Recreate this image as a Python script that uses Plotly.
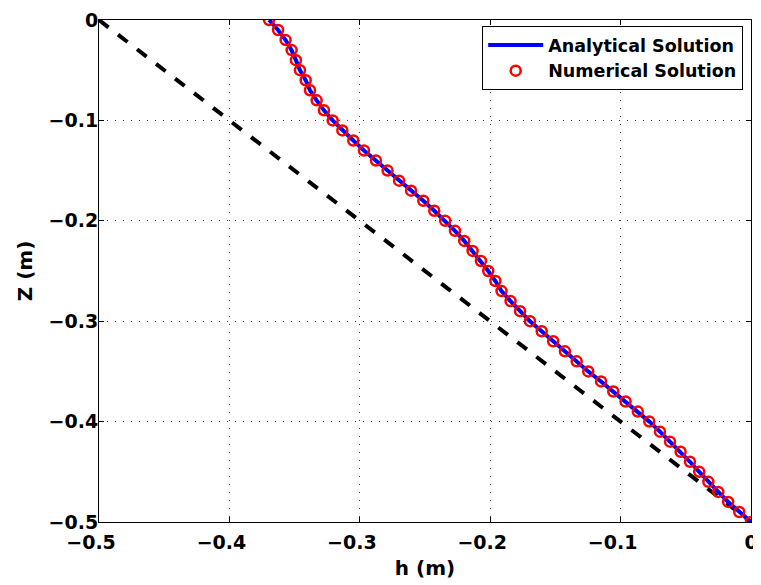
import plotly.graph_objects as go

z = [-i / 100 for i in range(51)]
h_num = [-0.3696, -0.3627, -0.3569, -0.3523, -0.3490, -0.3459, -0.3415, -0.3382, -0.3331, -0.3275,
         -0.3208, -0.3134, -0.3050, -0.2968, -0.2876, -0.2787, -0.2699, -0.2607, -0.2513, -0.2429,
         -0.2345, -0.2270, -0.2199, -0.2135, -0.2071, -0.2015, -0.1960, -0.1913, -0.1844, -0.1771,
         -0.1695, -0.1605, -0.1517, -0.1427, -0.1337, -0.1248, -0.1150, -0.1056, -0.0962, -0.0868,
         -0.0780, -0.0698, -0.0621, -0.0540, -0.0468, -0.0397, -0.0327, -0.0251, -0.0175, -0.0090,
         0.0]
h_ana = h_num
ref_h = [-0.5, 0.0]
ref_z = [0.0, -0.5]
xticks = [-0.5, -0.4, -0.3, -0.2, -0.1, 0]
yticks = [0, -0.1, -0.2, -0.3, -0.4, -0.5]

FONT = "DejaVu Sans, sans-serif"
PAD = '<span style="color:rgba(0,0,0,0)">−</span>'


def lab(v, pad=False):
    if v == 0:
        return "<b>0</b>"
    s = "<b>−%s</b>" % str(abs(v))
    return s + (PAD if pad else "")


fig = go.Figure()
fig.add_trace(go.Scatter(x=ref_h, y=ref_z, mode="lines", showlegend=False,
                         line=dict(color="black", width=4, dash="dash")))
fig.add_trace(go.Scatter(x=h_ana, y=z, mode="lines", name="<b>Analytical Solution</b>",
                         line=dict(color="#0000ff", width=4)))
fig.add_trace(go.Scatter(x=h_num, y=z, mode="markers", name="<b>Numerical Solution</b>",
                         marker=dict(symbol="circle-open", color="#ff0000", size=10,
                                     line=dict(color="#ff0000", width=2.5))))

axis_common = dict(showgrid=True, gridcolor="#404040", griddash="1px,7px", gridwidth=1,
                   zeroline=False, showline=True, linecolor="black", linewidth=1,
                   mirror="ticks", ticks="inside", ticklen=5, tickcolor="black",
                   automargin=False,
                   tickfont=dict(family=FONT, size=19, color="black"))

fig.update_layout(
    width=753, height=577,
    margin=dict(l=91, r=10, t=12, b=63),
    paper_bgcolor="white", plot_bgcolor="white",
    font=dict(family=FONT, color="black"),
    xaxis=dict(range=[-0.5, 0], tickvals=xticks, ticktext=[lab(v, True) for v in xticks],
               ticklabelstandoff=3,
               title=dict(text="<b>h (m)</b>", font=dict(family=FONT, size=20), standoff=9),
               **axis_common),
    yaxis=dict(range=[-0.5, 0], tickvals=yticks, ticktext=[lab(v) for v in yticks],
               ticklabelstandoff=-4,
               title=dict(text="<b>Z (m)</b>", font=dict(family=FONT, size=20), standoff=10),
               **axis_common),
    legend=dict(x=0.988, y=0.988, xanchor="right", yanchor="top",
                bgcolor="white", bordercolor="black", borderwidth=1,
                font=dict(family=FONT, size=17.5, color="black"),
                tracegroupgap=0, itemwidth=55),
    showlegend=True,
)

fig.write_html("out.html")
